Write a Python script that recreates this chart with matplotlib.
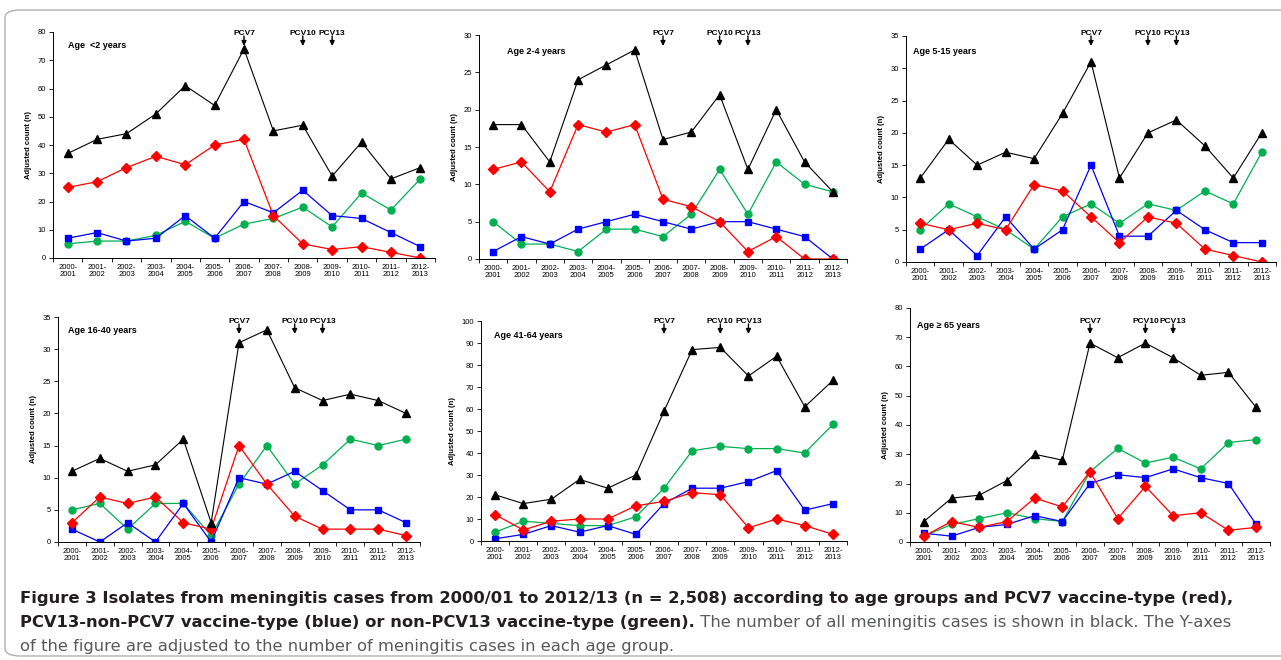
import matplotlib
matplotlib.use('Agg')
import matplotlib.pyplot as plt
import matplotlib.transforms as mtransforms
from matplotlib.patches import FancyBboxPatch
from matplotlib import font_manager

# season categories on the x axis
seasons = ['2000-\n2001', '2001-\n2002', '2002-\n2003', '2003-\n2004', '2004-\n2005',
           '2005-\n2006', '2006-\n2007', '2007-\n2008', '2008-\n2009', '2009-\n2010',
           '2010-\n2011', '2011-\n2012', '2012-\n2013']

age_groups = ['Age  <2 years', 'Age 2-4 years', 'Age 5-15 years',
              'Age 16-40 years', 'Age 41-64 years', 'Age \u2265 65 years']
y_max = [80, 30, 35, 35, 100, 80]
y_step = [10, 5, 5, 5, 10, 10]

# all meningitis cases (black)
all_cases = [
    [37, 42, 44, 51, 61, 54, 74, 45, 47, 29, 41, 28, 32],
    [18, 18, 13, 24, 26, 28, 16, 17, 22, 12, 20, 13, 9],
    [13, 19, 15, 17, 16, 23, 31, 13, 20, 22, 18, 13, 20],
    [11, 13, 11, 12, 16, 3, 31, 33, 24, 22, 23, 22, 20],
    [21, 17, 19, 28, 24, 30, 59, 87, 88, 75, 84, 61, 73],
    [7, 15, 16, 21, 30, 28, 68, 63, 68, 63, 57, 58, 46],
]
# PCV7 vaccine-type (red)
pcv7_type = [
    [25, 27, 32, 36, 33, 40, 42, 15, 5, 3, 4, 2, 0],
    [12, 13, 9, 18, 17, 18, 8, 7, 5, 1, 3, 0, 0],
    [6, 5, 6, 5, 12, 11, 7, 3, 7, 6, 2, 1, 0],
    [3, 7, 6, 7, 3, 2, 15, 9, 4, 2, 2, 2, 1],
    [12, 5, 9, 10, 10, 16, 18, 22, 21, 6, 10, 7, 3],
    [2, 7, 5, 7, 15, 12, 24, 8, 19, 9, 10, 4, 5],
]
# PCV13-non-PCV7 vaccine-type (blue)
pcv13_non7 = [
    [7, 9, 6, 7, 15, 7, 20, 16, 24, 15, 14, 9, 4],
    [1, 3, 2, 4, 5, 6, 5, 4, 5, 5, 4, 3, 0],
    [2, 5, 1, 7, 2, 5, 15, 4, 4, 8, 5, 3, 3],
    [2, 0, 3, 0, 6, 0, 10, 9, 11, 8, 5, 5, 3],
    [1, 3, 7, 4, 7, 3, 17, 24, 24, 27, 32, 14, 17],
    [3, 2, 5, 6, 9, 7, 20, 23, 22, 25, 22, 20, 6],
]
# non-PCV13 vaccine-type (green)
non_pcv13 = [
    [5, 6, 6, 8, 13, 7, 12, 14, 18, 11, 23, 17, 28],
    [5, 2, 2, 1, 4, 4, 3, 6, 12, 6, 13, 10, 9],
    [5, 9, 7, 5, 2, 7, 9, 6, 9, 8, 11, 9, 17],
    [5, 6, 2, 6, 6, 1, 9, 15, 9, 12, 16, 15, 16],
    [4, 9, 8, 7, 7, 11, 24, 41, 43, 42, 42, 40, 53],
    [2, 6, 8, 10, 8, 7, 24, 32, 27, 29, 25, 34, 35],
]

vaccines = ['PCV7', 'PCV10', 'PCV13']
vaccine_season = [6, 8, 9]

W, H = 1281, 660
fig = plt.figure(figsize=(W / 100, H / 100), dpi=100)

plt.rcParams['font.family'] = ['Liberation Sans', 'DejaVu Sans']

# panel boxes in pixels: left, top, right, bottom
boxes = [(53, 32, 435, 258), (479, 35, 847, 259), (906, 36, 1276, 262),
         (58, 317, 420, 542), (481, 321, 847, 541), (910, 308, 1270, 542)]
label_pos = [(68, 46), (507, 51), (913, 51), (68, 331), (494, 335), (917, 325)]

x = list(range(len(seasons)))
for i in range(6):
    l, t, r, b = boxes[i]
    ax = fig.add_axes([l / W, 1 - b / H, (r - l) / W, (b - t) / H])
    ax.plot(x, non_pcv13[i], color='#00b050', marker='o', markersize=5, lw=0.9)
    ax.plot(x, pcv13_non7[i], color='#0000ff', marker='s', markersize=5, lw=0.9)
    ax.plot(x, pcv7_type[i], color='#ff0000', marker='D', markersize=5, lw=0.9)
    ax.plot(x, all_cases[i], color='black', marker='^', markersize=5.5, lw=0.8)
    ax.set_xlim(-0.5, len(seasons) - 0.5)
    ax.set_ylim(0, y_max[i])
    ax.set_yticks(range(0, y_max[i] + 1, y_step[i]))
    ax.set_xticks(x)
    ax.set_xticklabels(seasons, fontsize=5.5, linespacing=1.1)
    ax.set_xticks([v - 0.5 for v in range(len(seasons) + 1)], minor=True)
    ax.tick_params(axis='x', which='major', length=0, pad=4)
    ax.tick_params(axis='x', which='minor', length=3, width=0.6)
    ax.tick_params(axis='y', length=3, width=0.6, labelsize=5.5, pad=2)
    ax.spines['top'].set_visible(False)
    ax.spines['right'].set_visible(False)
    ax.spines['left'].set_linewidth(0.7)
    ax.spines['bottom'].set_linewidth(0.7)
    ax.set_ylabel('Adjusted count (n)', fontsize=5.5, fontweight='bold', labelpad=4)
    fig.text(label_pos[i][0] / W, 1 - label_pos[i][1] / H, age_groups[i],
             fontsize=6.5, fontweight='bold', va='center', ha='left')
    # vaccine introduction arrows
    trans = mtransforms.blended_transform_factory(ax.transData, fig.transFigure)
    if i < 3:
        ty, a0, tip = 1 - 35 / H, 1 - 36 / H, 1 - 46 / H
    else:
        ty, a0, tip = 1 - 323 / H, 1 - 324 / H, 1 - 334 / H
    for name, s in zip(vaccines, vaccine_season):
        ax.text(s, ty, name, transform=trans, ha='center', va='baseline',
                fontsize=6, fontweight='bold')
        ax.annotate('', xy=(s, tip), xycoords=trans, xytext=(s, a0), textcoords=trans,
                    arrowprops=dict(arrowstyle='-|>', color='black', lw=1.0,
                                    mutation_scale=7, shrinkA=0, shrinkB=0),
                    annotation_clip=False)

# frame round the figure
frame = FancyBboxPatch((5 / W, 4 / H), 1.2, 1 - 14 / H, boxstyle='round,pad=0,rounding_size=0.012',
                       transform=fig.transFigure, fill=False, edgecolor='#b0b0b0', lw=1.0)
fig.patches.append(frame)

# caption
names = {f.name for f in font_manager.fontManager.ttflist}
cap_font = ['Liberation Sans Narrow'] if 'Liberation Sans Narrow' in names else ['DejaVu Sans']
cap_size = 11.8
bold1 = ('Figure 3 Isolates from meningitis cases from 2000/01 to 2012/13 (n = 2,508) '
         'according to age groups and PCV7 vaccine-type (red),')
bold2 = 'PCV13-non-PCV7 vaccine-type (blue) or non-PCV13 vaccine-type (green).'
plain2 = ' The number of all meningitis cases is shown in black. The Y-axes'
plain3 = 'of the figure are adjusted to the number of meningitis cases in each age group.'

fig.text(20 / W, 1 - 598 / H, bold1, family=cap_font, fontsize=cap_size,
         fontweight='bold', va='center', color='#231f20')
t2 = fig.text(20 / W, 1 - 622 / H, bold2, family=cap_font, fontsize=cap_size,
              fontweight='bold', va='center', color='#231f20')
renderer = fig.canvas.get_renderer()
ext = t2.get_window_extent(renderer)
fig.text(ext.x1 / W, 1 - 622 / H, plain2, family=cap_font, fontsize=cap_size,
         va='center', color='#58595b')
fig.text(20 / W, 1 - 646 / H, plain3, family=cap_font, fontsize=cap_size,
         va='center', color='#58595b')

fig.savefig('out.png', dpi=100)
